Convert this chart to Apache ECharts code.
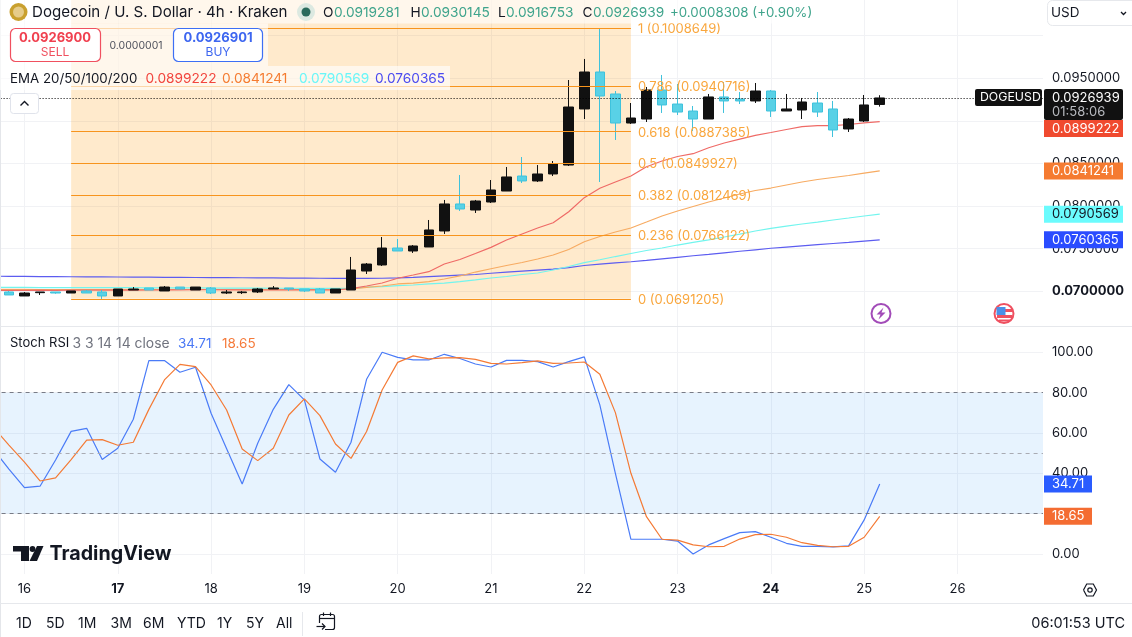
<!DOCTYPE html>
<html>
<head>
<meta charset="utf-8">
<script src="https://cdn.jsdelivr.net/npm/echarts@6/dist/echarts.min.js"></script>
<style>html,body{margin:0;padding:0;background:#fff;overflow:hidden}#c{width:1132px;height:637px}</style>
</head>
<body>
<div id="c"></div>
<script>
// ---- data ----
const opens = [.06992,.06945,.06984,.06992,.0698,.07004,.06992,.06945,.07015,.07039,.07004,.0705,.07015,.07039,.0698,.06984,.06992,.07027,.07039,.07027,.07027,.0698,.07015,.07238,.07309,.07508,.07473,.0752,.07708,.08025,.07954,.08048,.08177,.08353,.08295,.08377,.08482,.0914,.09574,.09316,.08975,.09022,.09363,.09198,.09116,.09022,.09281,.09257,.09234,.09351,.09116,.09128,.0921,.0914,.08905,.08999,.0919281];
const closes = [.06957,.0698,.06992,.0698,.07004,.0698,.06945,.07027,.07027,.07015,.0705,.07027,.0705,.0698,.06992,.06992,.07027,.07039,.07027,.07004,.0698,.07027,.0725,.0732,.07508,.07473,.07532,.0772,.08025,.07966,.0806,.08189,.08342,.08295,.08377,.08494,.09163,.09574,.09292,.08975,.09034,.09363,.09187,.09104,.09022,.09281,.09234,.09234,.09351,.09116,.0914,.09222,.09104,.08893,.09022,.09187,.0926939];
const lows = [.06957,.06945,.06957,.06972,.0698,.0698,.0691,.06945,.07015,.07015,.07004,.07027,.07015,.06968,.06968,.06968,.0698,.07027,.07004,.06992,.0698,.0698,.07015,.07203,.07297,.07473,.0745,.0752,.07673,.07943,.07919,.08036,.08177,.08271,.08283,.08353,.08471,.09022,.08283,.08776,.08964,.08987,.09093,.09069,.08881,.09022,.09093,.09198,.0921,.09046,.09116,.09022,.09046,.08811,.0887,.08987,.0916753];
const highs = [.07004,.06992,.06992,.06992,.07004,.07015,.07015,.07027,.0705,.07039,.07062,.0705,.0705,.0705,.07015,.07004,.07039,.07062,.07039,.07027,.07039,.07027,.07403,.07332,.07637,.07614,.07543,.07837,.08072,.08365,.08072,.08306,.08459,.08576,.08482,.08529,.0948,.09727,.1009,.09351,.0921,.09398,.09539,.09433,.09175,.09316,.09457,.09339,.09445,.09363,.09316,.09269,.09339,.09234,.09034,.09304,.0930145];

// EMAs: first entry is one bar before the first candle
const ema20 = [.0701,.07011,.07012,.07013,.07012,.07013,.07014,.07014,.07013,.07014,.07015,.07016,.07017,.07018,.07018,.07017,.07016,.07015,.07015,.07016,.07016,.07016,.07015,.07031,.07062,.07097,.07153,.07191,.0723,.0732,.07373,.07444,.07516,.07602,.07673,.07743,.07805,.07934,.08099,.08209,.08283,.08353,.08462,.08529,.08582,.08615,.08685,.08741,.08787,.08831,.08864,.08899,.08932,.08944,.08944,.08958,.08976,.0899222];
const ema50 = [.07022,.07022,.07022,.07021,.07021,.07021,.07021,.07021,.0702,.0702,.0702,.0702,.07021,.07021,.07021,.07021,.0702,.0702,.0702,.0702,.0702,.0702,.0702,.07027,.07045,.07062,.07086,.07097,.07113,.07144,.0718,.07226,.07265,.07303,.07338,.07379,.07426,.07491,.07582,.07643,.07696,.07743,.07813,.07884,.07942,.07995,.08048,.08095,.08142,.08183,.08212,.08248,.08283,.08312,.08336,.08359,.08388,.0841241];
const ema100 = [.07046,.07045,.07045,.07044,.07044,.07043,.07043,.07042,.07042,.07042,.07041,.07041,.0704,.0704,.07039,.07038,.07037,.07037,.07036,.07036,.07035,.07035,.07035,.07034,.0705,.07056,.07066,.07074,.07086,.07097,.07113,.07133,.07156,.07174,.07197,.07215,.0725,.07291,.07336,.0737,.07408,.07444,.07479,.07508,.07543,.07575,.07604,.07637,.07672,.07708,.07739,.07766,.0779,.07813,.07837,.0786,.07884,.0790569];
const ema200 = [.07177,.07176,.07175,.07173,.07172,.07171,.0717,.07169,.07168,.07167,.07166,.07164,.07163,.07162,.07161,.0716,.07159,.07158,.07157,.07155,.07154,.07153,.07152,.07151,.07151,.07153,.07157,.07163,.07172,.07181,.07189,.07197,.07212,.07224,.07236,.07248,.0726,.07277,.07303,.07318,.07333,.07347,.07362,.07381,.07399,.07417,.07434,.07452,.0747,.07487,.07505,.07519,.07533,.07547,.07561,.07575,.0759,.0760365];

// Stoch RSI: first entry is one bar before the first candle
const stochK = [51.9,42.1,32.9,33.6,46.6,60.8,62.3,46.9,52.4,66.8,95.9,95.9,90.1,92.6,69.8,52.2,34.7,54.9,71.7,84.0,76.4,47.1,40.5,55.4,86.6,100,97.5,96.2,96.2,99.0,96.9,94.2,92.7,96.0,96.0,95.4,92.7,95.4,97.7,73.9,40,7.3,7.3,7.3,6.4,0,4.5,7.6,10.6,11.1,8.3,5.3,3.8,3.8,3.5,4.0,16.9,34.71];
const stochD = [62.8,54.0,45.5,36.2,37.7,46.8,56.5,56.7,53.9,55.4,71.7,86.3,94.0,92.9,83.8,71.4,52.1,46.3,52.4,68.9,76.9,68.6,54.5,47.4,60.7,81.3,95.0,98.2,96.7,97.2,97.4,96.5,94.5,94.2,94.9,95.7,94.5,94.7,95.2,89.1,70.1,40,18.5,7.3,6.9,4.5,3.6,3.8,7.4,9.6,9.8,8.3,5.6,4.3,3.6,3.8,8.3,18.65];

const fibRatios = ['1','0.786','0.618','0.5','0.382','0.236','0'];
const fibPrices = [.1008649,.0940716,.0887385,.0849927,.0812469,.0766122,.0691205];
const fibStart = '16 12:00', fibEnd = '22 12:00';

const priceTicks = [.07,.075,.08,.085,.09,.095,.1];
const priceLabelTicks = [.07,.075,.08,.085,.095];
const stochTicks = [0,20,40,60,80,100];
const boldDays = ['17','24'];
const lastPrice = .0926939;
const tagValues = [.0926939,.0899222,.0841241,.0790569,.0760365];
const tagColors = ['#111111','#f04a2f','#f57b31','#6bfbfd','#2a4cff'];
const tagTextColors = ['#ffffff','#ffffff','#ffffff','#131722','#ffffff'];
const stochTagValues = [34.71,18.65];
const stochTagColors = ['#2a5cff','#f46c32'];

const categories = [];
for (let d = 15, h = 16; categories.length < 68; ) {
  categories.push(d + ' ' + String(h).padStart(2,'0') + ':00');
  h += 4; if (h === 24) { h = 0; d++; }
}

// ---- chart ----
const F = 'Inter, "Noto Sans", sans-serif';
const INK = '#131722', GRID = '#f1f2f5';
const isDay = (v) => String(v).endsWith(' 00:00');
const GL = -14.4, GW = 1057.4;
const PMIN = .065927, PMAX = .10419, SMIN = -9.92, SMAX = 112.54;
const noSym = {symbol:'none', showSymbol:false, silent:true, animation:false};

function tagRender(values, colors, textColors, fmt){
  let prevBottom = -1e9;
  return function(params, api){
    const i = params.dataIndex;
    if (i === 0) prevBottom = -1e9;
    const y = api.coord([0, values[i]])[1];
    const first = colors === tagColors && i === 0;
    const h = first ? 31 : 17;
    const top = Math.max(first ? y - 9 : y - 8.5, prevBottom);
    prevBottom = top + h;
    const w = colors === tagColors ? 79 : 48;
    const kids = [
      {type:'rect', shape:{x:1044, y:top, width:w, height:h, r:first?[2,2,2,2]:0}, style:{fill:colors[i]}},
      {type:'text', style:{x:1052, y:top + 8.7, text:fmt(values[i]), fill:textColors[i], font:'13px '+F, verticalAlign:'middle', textAlign:'left'}}
    ];
    if (first) {
      kids.push({type:'text', style:{x:1052, y:top+23, text:'01:58:06', fill:'#b9bbc0', font:'13px '+F, verticalAlign:'middle', textAlign:'left'}});
      kids.push({type:'rect', shape:{x:975, y:top, width:67, height:17, r:2}, style:{fill:'#111111'}});
      kids.push({type:'text', style:{x:980, y:top+8.7, text:'DOGEUSD', fill:'#fff', font:'12.3px '+F, verticalAlign:'middle', textAlign:'left'}});
    }
    return {type:'group', children:kids};
  };
}

const T = (x,y,text,fill,size,weight,align) => ({type:'text', z:101, silent:true, style:{x,y,text,fill,font:(weight||'400')+' '+size+'px '+F,textVerticalAlign:'middle',textAlign:align||'left',verticalAlign:'middle'}});
const R = (x,y,w,h,fill,stroke,r,lw,z) => ({type:'rect', z:z||100, silent:true, shape:{x,y,width:w,height:h,r:r||0}, style:{fill:fill||'transparent',stroke:stroke||null,lineWidth:lw||1}});
const L = (pts,stroke,lw) => ({type:'polyline', z:101, silent:true, shape:{points:pts}, style:{stroke,fill:'none',lineWidth:lw||1.4}});
const C = (cx,cy,r,fill,stroke,lw,z) => ({type:'circle', z:z||101, silent:true, shape:{cx,cy,r}, style:{fill:fill||'transparent',stroke:stroke||null,lineWidth:lw||1}});
const P = (pts,fill) => ({type:'polygon', z:102, silent:true, shape:{points:pts}, style:{fill}});

const overlay = [
  R(0,0,1,637,'#e4e6ea'),
  R(0,326,1132,1,'#e6e8ec'),
  R(0,603,1132,1,'#e6e8ec'),
  // translucent legend plates
  R(0,0,812,23.5,'rgba(255,255,255,0.62)'),
  R(0,23.5,268,42.5,'rgba(255,255,255,0.62)'),
  R(0,66,450,24,'rgba(255,255,255,0.62)'),
  // symbol line
  C(18.5,12,9,'#c9a02e'), C(18.5,12,5.5,'#e6cc8a',null,1,102),
  T(32,12.5,'Dogecoin / U. S. Dollar · 4h · Kraken',INK,15.1),
  C(306,12,9,'#dcE9e1'), C(306,12,4.5,'#2a6b5c',null,1,102),
  T(323,13,'O',INK,13.7), T(334,13,'0.0919281','#3fa48c',13.7),
  T(410.5,13,'H',INK,13.7), T(421,13,'0.0930145','#3fa48c',13.7),
  T(498,13,'L',INK,13.7), T(506,13,'0.0916753','#3fa48c',13.7),
  T(582.5,13,'C',INK,13.7), T(593,13,'0.0926939','#3fa48c',13.7),
  T(670,13,'+0.0008308 (+0.90%)','#3fa48c',13.3),
  // buy / sell
  R(10.5,28.5,90,33,'#fff','#f0505f',5,1.2),
  T(55,38,'0.0926900','#f0404f',13,'700','center'), T(55,52,'SELL','#f0505f',12,'400','center'),
  T(136,45.5,'0.0000001','#50535e',10.5,'400','center'),
  R(173.5,28.5,89,33,'#fff','#3d6ff5',5,1.2),
  T(218,38,'0.0926901','#3d66f0',13,'700','center'), T(218,52,'BUY','#3d66f0',12,'400','center'),
  // EMA legend
  T(10,78.5,'EMA 20/50/100/200',INK,13.3),
  T(145.5,78.5,'0.0899222','#f2453d',13.7), T(222,78.5,'0.0841241','#f57c31',13.7),
  T(299,78.5,'0.0790569','#6bf6f8',13.7), T(375,78.5,'0.0760365','#4b4bf0',13.7),
  // collapse button
  R(10.5,93.5,28,20,'#fff','#e0e3eb',3,1),
  L([[20.5,105.5],[24.5,101.5],[28.5,105.5]],INK,1.4),
  // event icons
  C(881,313.5,9.5,'#fff','#a24bb8',2),
  P([[883.5,307.5],[876.5,314.5],[880.5,314.5],[878.5,319.5],[885.5,312.5],[881.5,312.5]],'#a24bb8'),
  C(1004,313.5,9.5,'#fff','#ef5060',2),
  R(997,309,15,3,'#ef5060',null,0,1,103), R(997,315,15,3,'#ef5060',null,0,1,103), R(999,319.5,11,2,'#ef5060',null,0,1,103),
  R(996.5,307,9,8,'#4a90e8',null,0,1,104),
  // usd box
  R(1047.5,0.5,90,25,'#fff','#e6e8ec',5,1),
  T(1051,13,'USD',INK,13.5),
  L([[1121,12],[1123.5,14.5],[1126,12]],INK,1.3),
  // stoch legend
  T(10,343.5,'Stoch RSI',INK,13), T(72.5,343.5,'3 3 14 14 close','#70737e',13.9),
  T(178,343.5,'34.71','#4a78f5',13.5), T(222,343.5,'18.65','#f57a3a',13.5),
  // logo
  P([[13,546],[29,546],[29,561],[21,561],[21,551.5],[13,551.5]],'#131722'),
  C(32.5,549,2.9,'#131722',null,1,102),
  P([[37,546],[43.5,546],[37,561],[29.5,561]],'#131722'),
  T(49.5,554,'TradingView','#131722',19.7,'700'),
  // bottom bar
  T(16,624,'1D',INK,14), T(46,624,'5D',INK,14), T(78,624,'1M',INK,14), T(110.5,624,'3M',INK,14),
  T(143,624,'6M',INK,14), T(177,624,'YTD',INK,14), T(217,624,'1Y',INK,14), T(246,624,'5Y',INK,14), T(276,624,'All',INK,14),
  R(302,612,1,24,'#e6e8ec'),
  R(319.5,614.5,15,15,null,INK,2,1.2), L([[319.5,618.5],[334.5,618.5]],INK,1.2),
  L([[323.5,612.5],[323.5,616]],INK,1.2), L([[330.5,612.5],[330.5,616]],INK,1.2),
  R(316,623,9,7,'#fff',null,0,1,101), L([[316.5,626.5],[325,626.5]],INK,1.2), L([[322,623.5],[325,626.5],[322,629.5]],INK,1.2),
  T(1125,623.5,'06:01:53 UTC',INK,14.5,'400','right'),
  // settings
  L([[1083.5,590],[1086.7,584],[1093.3,584],[1096.5,590],[1093.3,596],[1086.7,596],[1083.5,590]],INK,1.2),
  C(1090,590,2.2,'transparent',INK,1.2)
];

const baseAxisX = (gi, labels) => ({
  type:'category', gridIndex:gi, data:categories, boundaryGap:true,
  axisLine:{show:false}, axisTick:{show:false},
  splitLine:{show:true, alignWithLabel:true, interval:(i,v)=>isDay(v), lineStyle:{color:GRID,width:1}},
  axisLabel:{show:labels, interval:(i,v)=>isDay(v), margin:9, color:INK, fontFamily:F, fontSize:13,
    formatter:(v)=>{const d=v.split(' ')[0]; return boldDays.includes(d)?'{b|'+d+'}':d;},
    rich:{b:{fontWeight:700,fontFamily:F,fontSize:13,color:INK}}}
});

const chart = echarts.init(document.getElementById('c'));
chart.setOption({
  animation:false, backgroundColor:'#ffffff',
  grid:[{left:GL,width:GW,top:0,height:326,outerBoundsMode:'none'},{left:GL,width:GW,top:327,height:247,outerBoundsMode:'none'}],
  xAxis:[baseAxisX(0,false),baseAxisX(1,true)],
  yAxis:[
    {type:'value',gridIndex:0,position:'right',min:PMIN,max:PMAX,scale:true,
      axisLine:{show:false},axisTick:{show:false,customValues:priceTicks},
      splitLine:{show:true,lineStyle:{color:GRID,width:1}},
      axisLabel:{customValues:priceLabelTicks,margin:9,color:INK,fontFamily:F,fontSize:13,
        formatter:(v)=>Math.abs(v-.07)<1e-9?'{b|'+v.toFixed(7)+'}':v.toFixed(7),
        rich:{b:{fontWeight:700,fontFamily:F,fontSize:13,color:INK}}}},
    {type:'value',gridIndex:1,position:'right',min:SMIN,max:SMAX,
      axisLine:{show:false},axisTick:{show:false,customValues:stochTicks},
      splitLine:{show:true,lineStyle:{color:GRID,width:1}},
      axisLabel:{customValues:stochTicks,margin:9,color:INK,fontFamily:F,fontSize:13,formatter:(v)=>v.toFixed(2)}}
  ],
  graphic:{elements:overlay},
  series:[
    {name:'Fib',type:'line',xAxisIndex:0,yAxisIndex:0,data:[],z:1,...noSym,
      markArea:{silent:true,animation:false,itemStyle:{color:'rgba(255,152,0,0.2)'},
        data:[[{xAxis:fibStart,yAxis:fibPrices[6]},{xAxis:fibEnd,yAxis:PMAX}]]},
      markLine:{silent:true,animation:false,symbol:'none',precision:7,
        lineStyle:{color:'#f7941d',width:1,type:'solid'},
        label:{position:'end',distance:7,offset:[0,1],color:'#f9a63c',fontFamily:F,fontSize:13,formatter:(p)=>p.name},
        data:fibRatios.map((r,i)=>[
          {name:r+' ('+fibPrices[i].toFixed(7)+')',xAxis:fibStart,yAxis:fibPrices[i]},
          {xAxis:fibEnd,yAxis:fibPrices[i]}])}},
    {name:'EMA200',type:'line',data:ema200,z:2,...noSym,lineStyle:{color:'#5c5cf0',width:1.2}},
    {name:'EMA100',type:'line',data:ema100,z:2,...noSym,lineStyle:{color:'#72f5ee',width:1.2}},
    {name:'EMA50',type:'line',data:ema50,z:2,...noSym,lineStyle:{color:'#f7ab62',width:1.2}},
    {name:'EMA20',type:'line',data:ema20,z:2,...noSym,lineStyle:{color:'#ef6a66',width:1.2}},
    {name:'DOGEUSD',type:'candlestick',z:3,silent:true,barWidth:10,
      data:[['-','-','-','-']].concat(opens.map((o,i)=>[o,closes[i],lows[i],highs[i]])),
      itemStyle:{color:'#111111',borderColor:'#111111',color0:'#59d1e6',borderColor0:'#3fc2dc',borderWidth:1}},
    {name:'Last',type:'line',data:[],z:4,...noSym,
      markLine:{silent:true,animation:false,symbol:'none',precision:7,label:{show:false},
        lineStyle:{color:'#000000',width:1,type:[1,2]},data:[{yAxis:lastPrice}]}},
    {name:'PriceTags',type:'custom',z:6,xAxisIndex:0,yAxisIndex:0,silent:true,
      data:tagValues.map(v=>[0,v]),
      renderItem:tagRender(tagValues,tagColors,tagTextColors,(v)=>v.toFixed(7))},
    {name:'Bands',type:'line',xAxisIndex:1,yAxisIndex:1,data:[],z:1,...noSym,
      markArea:{silent:true,animation:false,itemStyle:{color:'rgba(33,150,243,0.11)'},data:[[{yAxis:20},{yAxis:80}]]},
      markLine:{silent:true,animation:false,symbol:'none',label:{show:false},
        data:[
          {yAxis:80,lineStyle:{color:'#787b86',width:1,type:[4,4]}},
          {yAxis:50,lineStyle:{color:'#a9abb3',width:1,type:[4,4]}},
          {yAxis:20,lineStyle:{color:'#787b86',width:1,type:[4,4]}}]}},
    {name:'StochK',type:'line',xAxisIndex:1,yAxisIndex:1,data:stochK,z:2,...noSym,lineStyle:{color:'#4a7bf7',width:1.2}},
    {name:'StochD',type:'line',xAxisIndex:1,yAxisIndex:1,data:stochD,z:3,...noSym,lineStyle:{color:'#f47a35',width:1.2}},
    {name:'StochTags',type:'custom',z:6,xAxisIndex:1,yAxisIndex:1,silent:true,
      data:stochTagValues.map(v=>[0,v]),
      renderItem:tagRender(stochTagValues,stochTagColors,['#fff','#fff'],(v)=>v.toFixed(2))}
  ]
});
</script>
</body>
</html>
